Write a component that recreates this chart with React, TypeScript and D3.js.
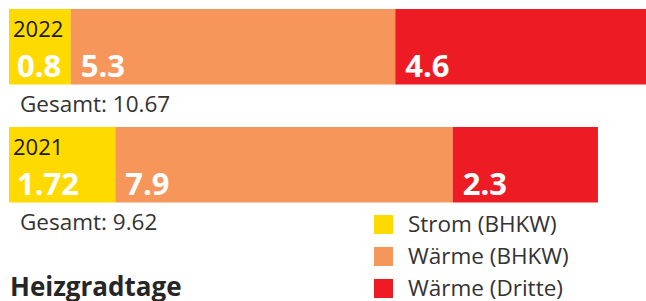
import React from 'react';
import * as d3 from 'd3';

// years shown as stacked bars, top to bottom
const years = ['2022', '2021'];
// segment order: Strom (BHKW), Wärme (BHKW), Wärme (Dritte)
const seriesNames = ['Strom (BHKW)', 'Wärme (BHKW)', 'Wärme (Dritte)'];
const seriesColors = ['#FFDA00', '#F7965A', '#ED1C24'];
// bar lengths as drawn in the picture
const values2022 = [1.0, 5.25, 4.6];
const values2021 = [1.72, 5.46, 2.35];
// printed labels inside the segments
const labels2022 = ['0.8', '5.3', '4.6'];
const labels2021 = ['1.72', '7.9', '2.3'];
const totals = ['10.67', '9.62'];

const W = 646;
const H = 301;
const font = '"Open Sans", "Noto Sans", sans-serif';

const App = () => {
  const rows = [
    { year: years[0], values: values2022, labels: labels2022, total: totals[0] },
    { year: years[1], values: values2021, labels: labels2021, total: totals[1] },
  ];

  const x = d3.scaleLinear().domain([0, 10]).range([9, 627]);
  const y = d3.scaleOrdinal<string, number>().domain(years).range([9, 127]);
  const barH = 75.5;

  const legendY = d3.scalePoint().domain(seriesNames).range([215, 279]);

  return (
    <svg width={W} height={H} style={{ position: 'absolute', left: 0, top: 0, background: '#fff' }}>
      {rows.map(row => {
        const stack = d3.cumsum(row.values);
        const y0 = y(row.year);
        return (
          <g key={row.year}>
            {row.values.map((v, i) => {
              const start = i === 0 ? 0 : stack[i - 1];
              return (
                <rect
                  key={i}
                  x={x(start)}
                  y={y0}
                  width={x(start + v) - x(start)}
                  height={barH}
                  fill={seriesColors[i]}
                />
              );
            })}
            <text x={13} y={y0 + 28} fontFamily={font} fontSize={22} fill="#1a1a1a">
              {row.year}
            </text>
            {row.labels.map((l, i) => {
              const start = i === 0 ? 0 : stack[i - 1];
              return (
                <text
                  key={i}
                  x={x(start) + (i === 0 ? 8 : 10)}
                  y={y0 + 68}
                  fontFamily={font}
                  fontSize={31}
                  fontWeight="bold"
                  fill="#fff"
                >
                  {l}
                </text>
              );
            })}
            <text x={20} y={y0 + barH + 27} fontFamily={font} fontSize={22.5} fill="#333">
              Gesamt: {row.total}
            </text>
          </g>
        );
      })}

      <text x={10} y={296} fontFamily={font} fontSize={26} fontWeight="bold" fill="#262626">
        Heizgradtage
      </text>

      {seriesNames.map((name, i) => (
        <g key={name} transform={`translate(374,${legendY(name)})`}>
          <rect width={19} height={19} fill={seriesColors[i]} />
          <text x={34} y={17} fontFamily={font} fontSize={22.5} fill="#333">
            {name}
          </text>
        </g>
      ))}
    </svg>
  );
};

export default App;
